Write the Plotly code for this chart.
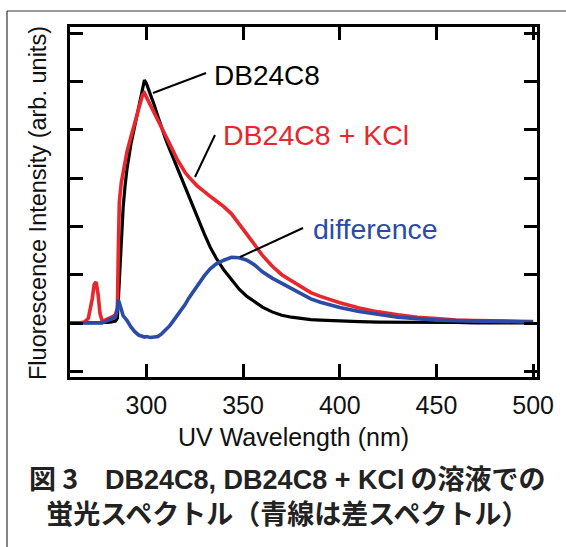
import plotly.graph_objects as go

# ---------------- data ----------------
wavelength = [260, 265, 268, 270, 272, 273, 274, 275, 276, 277, 278, 280, 282, 284, 285, 285.5,
              286, 287, 288, 289, 290, 292, 294, 296, 298, 299, 300, 302, 304, 306, 308, 310,
              312, 314, 316, 318, 320, 322, 324, 326, 328, 330, 333, 336, 340, 344, 348, 352,
              356, 360, 365, 370, 375, 380, 385, 390, 395, 400, 410, 420, 430, 440, 450, 460,
              470, 480, 490, 500]

db24c8 = [0.0, 0.0, 0.0, 0.0, 0.0, 0.0, 0.0, 0.0, 0.0, 0.0, 0.0, 0.01, 0.02, 0.04, 0.1, 0.5,
          1.0, 1.8, 2.4, 2.85, 3.2, 3.7, 4.1, 4.5, 4.9, 5.03, 4.96, 4.76, 4.52, 4.27, 4.02, 3.8,
          3.6, 3.4, 3.22, 3.02, 2.82, 2.6, 2.42, 2.22, 2.02, 1.84, 1.57, 1.35, 1.1, 0.9, 0.7, 0.55,
          0.43, 0.33, 0.23, 0.16, 0.12, 0.09, 0.07, 0.06, 0.05, 0.04, 0.03, 0.02, 0.02, 0.01, 0.01, 0.01,
          0.0, 0.0, 0.0, 0.0]

db24c8_kcl = [0.0, 0.0, 0.02, 0.1, 0.5, 0.8, 0.85, 0.6, 0.2, 0.06, 0.05, 0.08, 0.12, 0.17, 0.3, 1.5,
              2.5, 2.9, 3.15, 3.35, 3.55, 3.85, 4.15, 4.45, 4.72, 4.76, 4.68, 4.52, 4.38, 4.23, 4.07, 3.9,
              3.73, 3.55, 3.38, 3.24, 3.12, 3.02, 2.93, 2.85, 2.78, 2.71, 2.62, 2.53, 2.41, 2.26, 2.05, 1.86,
              1.62, 1.4, 1.18, 1.0, 0.87, 0.74, 0.63, 0.55, 0.48, 0.42, 0.31, 0.23, 0.17, 0.12, 0.09, 0.06,
              0.05, 0.04, 0.03, 0.03]

difference = [0.0, 0.0, 0.0, 0.0, 0.0, 0.0, 0.0, 0.0, -0.01, 0.0, 0.02, 0.05, 0.08, 0.12, 0.3, 0.48,
              0.42, 0.3, 0.15, 0.1, 0.05, -0.08, -0.18, -0.25, -0.28, -0.29, -0.28, -0.3, -0.29, -0.28, -0.22, -0.15,
              -0.06, 0.05, 0.15, 0.26, 0.38, 0.52, 0.64, 0.76, 0.88, 0.98, 1.12, 1.22, 1.3, 1.36, 1.35, 1.3,
              1.2, 1.06, 0.93, 0.82, 0.72, 0.6, 0.5, 0.43, 0.37, 0.32, 0.24, 0.18, 0.12, 0.09, 0.06, 0.05,
              0.04, 0.03, 0.02, 0.02]

x_ticks = [300, 350, 400, 450, 500]
y_ticks = [-1, 0, 1, 2, 3, 4, 5, 6]

series_names = ["DB24C8", "DB24C8 + KCl", "difference"]
x_title = "UV Wavelength (nm)"
y_title = "Fluorescence Intensity (arb. units)"
LATIN_B = "font-family:'Liberation Sans', Arial, sans-serif"
caption = ("<b>図 3　<span style=\"" + LATIN_B + "\">DB24C8, DB24C8 + KCl</span> の溶液での"
           "<br>蛍光スペクトル（青線は差スペクトル）</b>")

# ---------------- styling ----------------
W, H = 566, 547
L, R, T, B = 70, 29, 27, 170
PW, PH = W - L - R, H - T - B
BLACK, RED, BLUE = "#000000", "#e8262c", "#2b4ba6"
LATIN = "Liberation Sans, Arial, sans-serif"
CJK = "Noto Sans CJK JP"


def px(x):
    return (x - L) / PW


def py(y):
    return (H - B - y) / PH


fig = go.Figure()
for vals, color, width, name in [(db24c8, BLACK, 3.2, series_names[0]),
                                  (db24c8_kcl, RED, 3.6, series_names[1]),
                                  (difference, BLUE, 3.6, series_names[2])]:
    fig.add_trace(go.Scatter(x=wavelength, y=vals, mode="lines", name=name,
                             line=dict(color=color, width=width), showlegend=False))

axis_common = dict(showline=True, linewidth=3, linecolor="black", mirror="ticks",
                   ticks="inside", ticklen=13, tickwidth=2.5, tickcolor="black",
                   showgrid=False, zeroline=False)

fig.update_xaxes(range=[260.5, 502], tickvals=x_ticks, ticktext=[str(v) for v in x_ticks],
                 tickfont=dict(family=LATIN, size=25, color="#111"), ticklabelstandoff=4,
                 **axis_common)
fig.update_yaxes(range=[-1.118, 6.128], tickvals=y_ticks, showticklabels=False, **axis_common)

annotations = [
    dict(x=px(293), y=py(437), text=x_title, font=dict(family=LATIN, size=25, color="#111")),
    dict(x=px(38), y=py(203), text=y_title, textangle=-90, font=dict(family=LATIN, size=23.5, color="#111")),
    dict(x=px(212), y=py(75), text=series_names[0], xanchor="left",
         font=dict(family=LATIN, size=28, color=BLACK)),
    dict(x=px(221), y=py(135), text=series_names[1], xanchor="left",
         font=dict(family=LATIN, size=28.5, color=RED)),
    dict(x=px(311), y=py(229), text=series_names[2], xanchor="left",
         font=dict(family=LATIN, size=28.5, color=BLUE)),
    dict(x=px(287), y=py(495), text=caption, align="center",
         font=dict(family=CJK, size=27, color="#222")),
]
for a in annotations:
    a.setdefault("xanchor", "center")
    fig.add_annotation(xref="paper", yref="paper", showarrow=False, yanchor="middle", **a)

leaders = [((153, 93), (206, 73)), ((215, 135), (195, 177)), ((303, 228), (240, 257))]
shapes = []
for (x0, y0), (x1, y1) in leaders:
    shapes.append(dict(type="line", xref="paper", yref="paper", x0=px(x0), y0=py(y0),
                       x1=px(x1), y1=py(y1), line=dict(color="black", width=2)))
# outer frame (top and left edges)
shapes.append(dict(type="line", xref="paper", yref="paper", x0=px(7), y0=py(11), x1=px(570),
                   y1=py(11), line=dict(color="#333", width=1.2)))
shapes.append(dict(type="line", xref="paper", yref="paper", x0=px(7), y0=py(11), x1=px(7),
                   y1=py(552), line=dict(color="#333", width=1.2)))

fig.update_layout(width=W, height=H, margin=dict(l=L, r=R, t=T, b=B),
                  paper_bgcolor="white", plot_bgcolor="white", shapes=shapes)

fig.write_html("out.html", config={"displayModeBar": False},
               post_script="document.body.style.margin='0';document.body.style.overflow='hidden';")
